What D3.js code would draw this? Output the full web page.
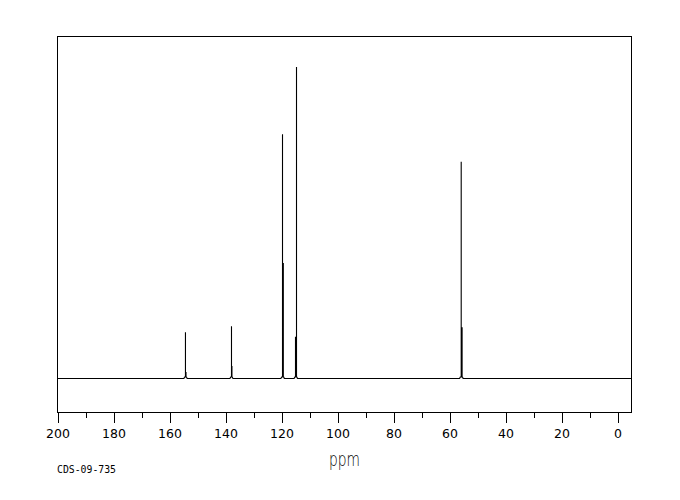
<!DOCTYPE html>
<html>
<head>
<meta charset="utf-8">
<script src="https://cdn.jsdelivr.net/npm/d3@7"></script>
<style>
  body { margin: 0; background: #fff; }
  svg { display: block; }
</style>
</head>
<body>
<div id="spectrum"></div>
<script>
// Chemical shifts (ppm) and relative intensities of the traced spectrum
const shiftPpm = [
    200,
    154.85, 154.6, 154.3, 154.3, 154.3, 154.1, 154.1, 154.1, 153.95, 153.7,
    138.4, 138.15, 137.86, 137.86, 137.86, 137.7, 137.7, 137.7, 137.6, 137.35,
    120.2, 119.95, 119.64, 119.64, 119.64, 119.35, 119.35, 119.35, 119.2, 119.0,
    115.5, 115.25, 115.0, 115.0, 115.0, 114.64, 114.64, 114.64, 114.5, 114.3,
    56.4, 56.15, 55.82, 55.82, 55.82, 55.5, 55.5, 55.5, 55.35, 55.15,
    -5
];
const intensity = [
    0,
    0, 0.5, 0.5, 14.9, 0.5, 0.5, 2.1, 0.5, 0.5, 0,
    0, 0.5, 0.5, 16.8, 0.5, 0.5, 4.0, 0.5, 0.5, 0,
    0, 0.5, 0.5, 78.4, 0.5, 0.5, 37.1, 0.5, 0.5, 0,
    0, 0.5, 0.5, 13.4, 0.5, 0.5, 100, 0.5, 0.5, 0,
    0, 0.5, 0.5, 69.6, 0.5, 0.5, 16.5, 0.5, 0.5, 0,
    0
];

// Tick labels
const majorTicks = [200, 180, 160, 140, 120, 100, 80, 60, 40, 20, 0];
const minorTicks = [190, 170, 150, 130, 110, 90, 70, 50, 30, 10];

const axisTitle = 'ppm';
const sampleCode = 'CDS-09-735';

const width = 680, height = 500;
const frame = {left: 57.5, top: 36.5, right: 631.5, bottom: 412.5};

const svg = d3.select('#spectrum')
    .append('svg')
    .attr('width', width)
    .attr('height', height);

// Scales
const xScale = d3.scaleLinear()
    .domain([200, -5])
    .range([frame.left, frame.right]);

const yScale = d3.scaleLinear()
    .domain([-10.9, 109.8])
    .range([frame.bottom, frame.top]);

// Frame
svg.append('rect')
    .attr('x', frame.left)
    .attr('y', frame.top)
    .attr('width', frame.right - frame.left)
    .attr('height', frame.bottom - frame.top)
    .attr('fill', 'none')
    .attr('stroke', '#000')
    .attr('stroke-width', 1)
    .attr('shape-rendering', 'crispEdges');

// Spectrum trace
const points = shiftPpm.map((p, i) => ({ppm: p, value: intensity[i]}));

const line = d3.line()
    .x(d => xScale(d.ppm))
    .y(d => yScale(d.value));

svg.append('path')
    .datum(points)
    .attr('d', line)
    .attr('fill', 'none')
    .attr('stroke', '#000')
    .attr('stroke-width', 1.1)
    .attr('stroke-linejoin', 'bevel');

// Minor ticks
const minorAxis = svg.append('g')
    .attr('transform', `translate(0,${frame.bottom})`)
    .call(d3.axisBottom(xScale).tickValues(minorTicks).tickSize(5).tickFormat(''));

// Major ticks with labels
const majorAxis = svg.append('g')
    .attr('transform', `translate(0,${frame.bottom})`)
    .call(d3.axisBottom(xScale).tickValues(majorTicks).tickSize(10).tickPadding(7).tickFormat(d3.format('d')));

[minorAxis, majorAxis].forEach(g => {
    g.select('.domain').remove();
    g.selectAll('.tick line')
        .attr('stroke', '#000')
        .attr('shape-rendering', 'crispEdges');
});

majorAxis.selectAll('.tick text')
    .attr('fill', '#000')
    .style('font-family', '"DejaVu Sans", sans-serif')
    .style('font-size', '12.5px');

// Axis title
svg.append('text')
    .attr('x', (frame.left + frame.right) / 2)
    .attr('y', 466)
    .attr('text-anchor', 'middle')
    .attr('textLength', 31)
    .attr('lengthAdjust', 'spacingAndGlyphs')
    .style('font-family', '"DejaVu Sans ExtraLight", "DejaVu Sans", sans-serif')
    .style('font-weight', '200')
    .style('font-size', '19px')
    .text(axisTitle);

// Sample code
svg.append('text')
    .attr('x', 57)
    .attr('y', 473)
    .style('font-family', '"DejaVu Sans Mono", monospace')
    .style('font-size', '9.8px')
    .text(sampleCode);
</script>
</body>
</html>
